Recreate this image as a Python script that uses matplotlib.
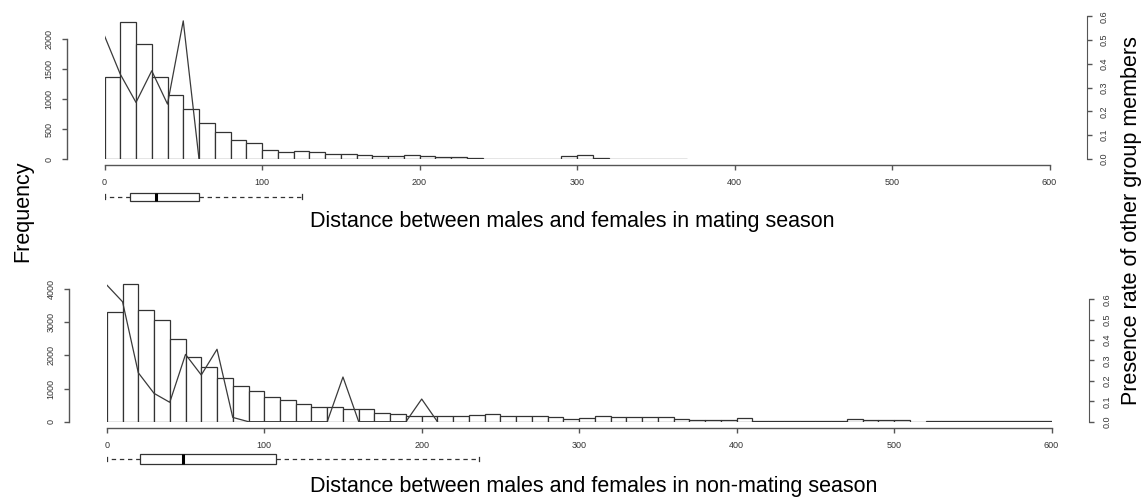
import numpy as np
import matplotlib
matplotlib.use("Agg")
import matplotlib.pyplot as plt

plt.rcParams['font.family'] = ['Liberation Sans', 'DejaVu Sans']

# ---- data ----
bin_width = 10

# mating season histogram (bins 0-370)
mating_counts = [1376, 2295, 1916, 1376, 1075, 841, 607, 457, 318, 273,
                 145, 117, 134, 111, 89, 89, 61, 56, 56, 61,
                 45, 33, 30, 10, 0, 0, 6, 6, 6, 45,
                 75, 12, 0, 0, 0, 0, 0]
mating_rate_x = [0, 10, 20, 30, 40, 50, 60]
mating_rate = [0.518, 0.357, 0.238, 0.371, 0.231, 0.581, 0.0]
# boxplot: whisker low, q1, median, q3, whisker high
mating_box = [0, 16.5, 32.5, 60, 125.5]

# non-mating season histogram (bins 0-600)
nonmating_counts = [3317, 4141, 3367, 3065, 2492, 1940, 1638, 1307, 1075, 940,
                    734, 653, 523, 452, 432, 372, 372, 276, 226, 171,
                    171, 171, 171, 201, 221, 171, 171, 171, 141, 70,
                    121, 181, 131, 151, 151, 151, 70, 40, 40, 40,
                    121, 10, 10, 10, 10, 10, 10, 80, 40, 40,
                    40, 0, 8, 8, 8, 8, 8, 8, 8, 8]
nonmating_rate_x = [0, 10, 20, 30, 40, 50, 60, 70, 80, 90, 100, 110, 120, 130,
                    140, 150, 160, 170, 180, 190, 200, 210]
nonmating_rate = [0.67, 0.588, 0.24, 0.139, 0.095, 0.33, 0.229, 0.355, 0.021, 0.0,
                  0.0, 0.0, 0.0, 0.0, 0.0, 0.219, 0.0, 0.0, 0.0, 0.0, 0.111, 0.0]
nonmating_box = [0, 21.2, 48.3, 107.4, 236.6]

xticks = [0, 100, 200, 300, 400, 500, 600]
title_top = "Distance between males and females in mating season"
title_bottom = "Distance between males and females in non-mating season"
ylab_left = "Frequency"
ylab_right = "Presence rate of other group members"

# ---- layout helpers (pixels) ----
W, H = 1145, 498
fig = plt.figure(figsize=(W / 100, H / 100), dpi=100)


def rect(x0, x1, ytop, ybot):
    return [x0 / W, 1 - ybot / H, (x1 - x0) / W, (ybot - ytop) / H]


AXC = '#555555'
BARC = '#333333'
TXTC = '#333333'


def panel(r, counts, ymax, yticks, rate_x, rate, rmax, spine_out):
    ax = fig.add_axes(r)
    edges = np.arange(len(counts)) * bin_width
    ax.bar(edges, counts, width=bin_width, align='edge', color='white',
           edgecolor=BARC, linewidth=0.9)
    ax.set_xlim(0, 600)
    ax.set_ylim(0, ymax)
    for s in ['top', 'right']:
        ax.spines[s].set_visible(False)
    ax.spines['left'].set_position(('outward', spine_out[0]))
    ax.spines['bottom'].set_position(('outward', spine_out[1]))
    ax.spines['left'].set_bounds(0, yticks[-1])
    ax.spines['bottom'].set_bounds(0, 600)
    ax.set_xticks(xticks)
    ax.set_yticks(yticks)
    for s in ['left', 'bottom']:
        ax.spines[s].set_color(AXC)
        ax.spines[s].set_linewidth(1.0)
    ax.tick_params(colors=AXC, labelcolor=TXTC, labelsize=6.5, length=3.6,
                   width=1.0, pad=6)
    ax.tick_params(axis='y', labelrotation=90)
    for t in ax.get_yticklabels():
        t.set_va('center')
    ax.patch.set_visible(False)

    ax2 = ax.twinx()
    ax2.plot(rate_x, rate, color='#3a3a3a', linewidth=0.9)
    ax2.set_ylim(0, rmax)
    for s in ['top', 'left', 'bottom']:
        ax2.spines[s].set_visible(False)
    ax2.spines['right'].set_position(('outward', spine_out[2]))
    ax2.spines['right'].set_bounds(0, 0.6)
    ax2.spines['right'].set_color(AXC)
    ax2.set_yticks([0.0, 0.1, 0.2, 0.3, 0.4, 0.5, 0.6])
    ax2.set_yticklabels(['0.0', '0.1', '0.2', '0.3', '0.4', '0.5', '0.6'])
    ax2.tick_params(colors=AXC, labelcolor=TXTC, labelsize=6.5, length=3.6,
                    width=1.0, pad=6, labelrotation=90)
    for t in ax2.get_yticklabels():
        t.set_va('center')
    return ax


def box(r, stats, hfrac):
    bx = fig.add_axes(r)
    st = [dict(whislo=stats[0], q1=stats[1], med=stats[2], q3=stats[3],
               whishi=stats[4], fliers=[])]
    bx.bxp(st, positions=[0.5], widths=hfrac, capwidths=0.22,
           orientation='horizontal', patch_artist=True, showfliers=False,
           boxprops=dict(facecolor='white', edgecolor=BARC, linewidth=0.9),
           whiskerprops=dict(color=BARC, linewidth=0.9, linestyle=(0, (3.5, 3))),
           capprops=dict(color=BARC, linewidth=0.9),
           medianprops=dict(color='black', linewidth=2.2))
    bx.set_xlim(0, 600)
    bx.set_ylim(0, 1)
    bx.axis('off')


# top panel (mating season)
panel(rect(104.5, 1049.5, 15.4, 159), mating_counts, 2400,
      [0, 500, 1000, 1500, 2000], mating_rate_x, mating_rate, 0.604,
      (27.2, 4.0, 26.8))
box(rect(104.5, 1049.5, 186, 207), mating_box, 8 / 21)

# bottom panel (non-mating season)
panel(rect(106.8, 1051.5, 279, 421.7), nonmating_counts, 4300,
      [0, 1000, 2000, 3000, 4000], nonmating_rate_x, nonmating_rate, 0.6995,
      (27.2, 4.6, 27.2))
box(rect(106.8, 1051.5, 448, 470), nonmating_box, 10 / 22)

# texts
fig.text(309.5 / W, 1 - 222 / H, title_top, ha='left', va='center', fontsize=15.5)
fig.text(310 / W, 1 - 486 / H, title_bottom, ha='left', va='center', fontsize=15.5)
fig.text(23 / W, 1 - 211 / H, ylab_left, ha='center', va='center',
         rotation=90, fontsize=15.5)
fig.text(1131 / W, 1 - 221 / H, ylab_right, ha='center', va='center',
         rotation=90, fontsize=15.5)

fig.savefig("out.png", dpi=100)
